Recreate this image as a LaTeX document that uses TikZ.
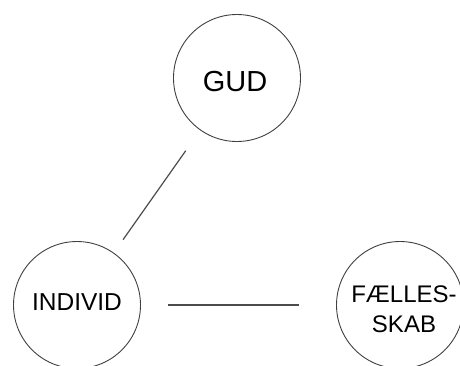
\documentclass[tikz,border=0pt]{standalone}
\usepackage{fontspec}
\setmainfont{Liberation Sans}
\begin{document}
\begin{tikzpicture}[x=1pt,y=-1pt,
  ring/.style={circle,draw=black!75,line width=0.9pt,minimum size=127pt,inner sep=0pt},
  link/.style={draw=black!70,line width=1.2pt},
  word/.style={inner sep=0pt,align=center,text=black}]
  \useasboundingbox (0,0) rectangle (460,365);
  \clip (0,0) rectangle (460,365);
  % the three circles
  \node[ring] (gud)    at (237,78)  {};
  \node[ring] (indiv)  at (77,305)  {};
  \node[ring] (faelle) at (400,305) {};
  % their names
  \node[word,font=\fontsize{29}{30}\selectfont] at (235,82) {GUD};
  \node[word,font=\fontsize{24.5}{30}\selectfont] at (77,302.5) {INDIVID};
  \node[word,font=\fontsize{24}{30}\selectfont] at (404,309) {FÆLLES-\\SKAB};
  % connecting lines, kept clear of the circles
  \draw[link,shorten <=16pt,shorten >=25pt] (indiv) -- (gud);
  \draw[link,shorten <=27pt,shorten >=37pt] (indiv) -- (faelle);
\end{tikzpicture}
\end{document}
